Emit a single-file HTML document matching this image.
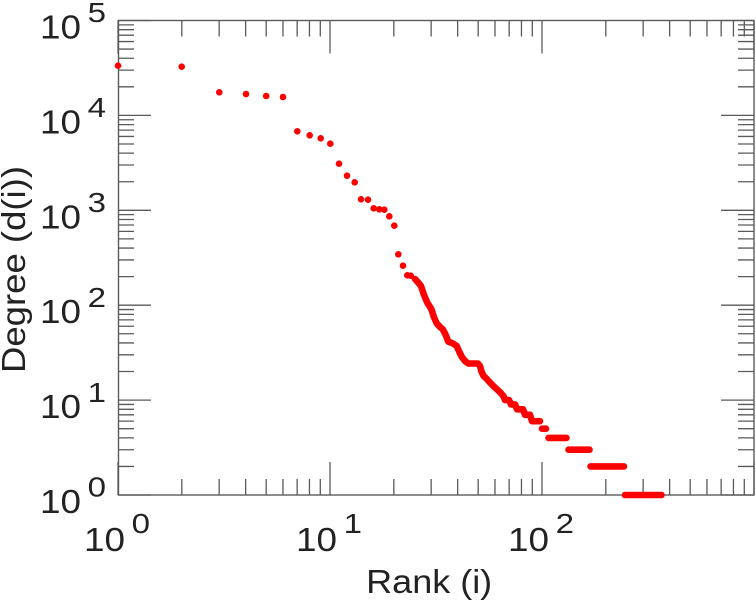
<!DOCTYPE html>
<html>
<head>
<meta charset="utf-8">
<style>
html,body{margin:0;padding:0;background:#fff;}
svg{display:block;}
text{font-family:"Liberation Sans",Arial,sans-serif;fill:#222;}
</style>
</head>
<body>
<svg width="756" height="600" viewBox="0 0 756 600" xmlns="http://www.w3.org/2000/svg">
<rect x="0" y="0" width="756" height="600" fill="#fff"/>

<!-- axes box -->
<rect x="118.5" y="20.5" width="635.5" height="474.5" fill="none" stroke="#5a5a5a" stroke-width="1.4"/>

<!-- ticks -->
<path fill="none" stroke="#5a5a5a" stroke-width="1.3" d="
M118 466.43h16M118 449.72h16M118 437.86h16M118 428.67h16M118 421.15h16M118 414.8h16M118 409.3h16M118 404.44h16
M118 371.53h16M118 354.82h16M118 342.96h16M118 333.77h16M118 326.25h16M118 319.9h16M118 314.4h16M118 309.54h16
M118 276.63h16M118 259.92h16M118 248.06h16M118 238.87h16M118 231.35h16M118 225h16M118 219.5h16M118 214.64h16
M118 181.73h16M118 165.02h16M118 153.16h16M118 143.97h16M118 136.45h16M118 130.1h16M118 124.6h16M118 119.74h16
M118 86.83h16M118 70.12h16M118 58.26h16M118 49.07h16M118 41.55h16M118 35.2h16M118 29.7h16M118 24.84h16
M754 466.43h-16M754 449.72h-16M754 437.86h-16M754 428.67h-16M754 421.15h-16M754 414.8h-16M754 409.3h-16M754 404.44h-16
M754 371.53h-16M754 354.82h-16M754 342.96h-16M754 333.77h-16M754 326.25h-16M754 319.9h-16M754 314.4h-16M754 309.54h-16
M754 276.63h-16M754 259.92h-16M754 248.06h-16M754 238.87h-16M754 231.35h-16M754 225h-16M754 219.5h-16M754 214.64h-16
M754 181.73h-16M754 165.02h-16M754 153.16h-16M754 143.97h-16M754 136.45h-16M754 130.1h-16M754 124.6h-16M754 119.74h-16
M754 86.83h-16M754 70.12h-16M754 58.26h-16M754 49.07h-16M754 41.55h-16M754 35.2h-16M754 29.7h-16M754 24.84h-16
M118 495h33M118 400.1h33M118 305.2h33M118 210.3h33M118 115.4h33M118 20.5h33
M754 495h-33M754 400.1h-33M754 305.2h-33M754 210.3h-33M754 115.4h-33M754 20.5h-33
M181.82 495v-16M219.15 495v-16M245.64 495v-16M266.18 495v-16M282.97 495v-16M297.16 495v-16M309.46 495v-16M320.3 495v-16
M393.82 495v-16M431.15 495v-16M457.64 495v-16M478.18 495v-16M494.97 495v-16M509.16 495v-16M521.46 495v-16M532.3 495v-16
M605.82 495v-16M643.15 495v-16M669.64 495v-16M690.18 495v-16M706.97 495v-16M721.16 495v-16M733.46 495v-16M744.3 495v-16
M181.82 20.5v16M219.15 20.5v16M245.64 20.5v16M266.18 20.5v16M282.97 20.5v16M297.16 20.5v16M309.46 20.5v16M320.3 20.5v16
M393.82 20.5v16M431.15 20.5v16M457.64 20.5v16M478.18 20.5v16M494.97 20.5v16M509.16 20.5v16M521.46 20.5v16M532.3 20.5v16
M605.82 20.5v16M643.15 20.5v16M669.64 20.5v16M690.18 20.5v16M706.97 20.5v16M721.16 20.5v16M733.46 20.5v16M744.3 20.5v16
M118 495v-33M330 495v-33M542 495v-33M754 495v-33
M118 20.5v33M330 20.5v33M542 20.5v33M754 20.5v33
"/>

<!-- data: individual dots -->
<g fill="#ff0000">
<circle cx="118" cy="65.7" r="3.3"/>
<circle cx="181.7" cy="66.7" r="3.3"/>
<circle cx="219.3" cy="92.3" r="3.3"/>
<circle cx="246" cy="94" r="3.3"/>
<circle cx="266.2" cy="96" r="3.3"/>
<circle cx="283" cy="97" r="3.3"/>
<circle cx="297.3" cy="131.3" r="3.3"/>
<circle cx="309.7" cy="135.3" r="3.3"/>
<circle cx="320.7" cy="138.3" r="3.3"/>
<circle cx="330.3" cy="143.7" r="3.3"/>
<circle cx="339" cy="163.7" r="3.3"/>
<circle cx="347" cy="175.7" r="3.3"/>
<circle cx="354.7" cy="182.3" r="3.3"/>
<circle cx="361" cy="199.3" r="3.3"/>
<circle cx="368" cy="199.7" r="3.3"/>
<circle cx="373.7" cy="208.3" r="3.3"/>
<circle cx="379.3" cy="209.3" r="3.3"/>
<circle cx="384.3" cy="209.7" r="3.3"/>
<circle cx="389.3" cy="216.3" r="3.3"/>
<circle cx="394.3" cy="225.7" r="3.3"/>
<circle cx="398.3" cy="254.3" r="3.3"/>
<circle cx="403" cy="265.7" r="3.3"/>
<circle cx="407.3" cy="275.3" r="3.3"/>
<circle cx="410.7" cy="275.7" r="3.3"/>
</g>

<!-- data: dense overlapping dots -->
<g fill="none" stroke="#ff0000" stroke-width="6.6" stroke-linecap="round" stroke-linejoin="round">
<polyline points="415,279 418.3,282.7 421,286 424,295 427.3,302.7 431.3,309 434,317.3 436.7,323.3 440,327 442.7,329.3 445.3,334 448.3,341.7 452.7,343.3 456.7,346 459.3,351.7 461.7,356.7 465,361 468.3,363.5 478,363.5 480,366 481.5,371.5 483.5,375.9 486,378.2 488.3,380.7 490.8,383.4 493.5,386.2 497,389.3 500.5,392.6 503.5,396.2 505,400 509,400 511,404.4 515,404.4 517,409.3 523,409.3 525,414.8 530,414.8 532,421.2 540,421.2"/>
<path d="M542 428.7H546M548.5 437.9H566.5M568.5 449.7H589.5M590.5 466.4H624M625 495H661.5"/>
</g>

<!-- y tick labels -->
<g font-size="33">
<text x="40" y="38.5" textLength="41" lengthAdjust="spacingAndGlyphs">10</text>
<text x="40" y="133.4" textLength="41" lengthAdjust="spacingAndGlyphs">10</text>
<text x="40" y="228.3" textLength="41" lengthAdjust="spacingAndGlyphs">10</text>
<text x="40" y="323.2" textLength="41" lengthAdjust="spacingAndGlyphs">10</text>
<text x="40" y="418.1" textLength="41" lengthAdjust="spacingAndGlyphs">10</text>
<text x="40" y="513" textLength="41" lengthAdjust="spacingAndGlyphs">10</text>
</g>
<g font-size="28">
<text x="87.6" y="22" textLength="18.4" lengthAdjust="spacingAndGlyphs">5</text>
<text x="87.6" y="117" textLength="18.4" lengthAdjust="spacingAndGlyphs">4</text>
<text x="87.6" y="212" textLength="18.4" lengthAdjust="spacingAndGlyphs">3</text>
<text x="87.6" y="307" textLength="18.4" lengthAdjust="spacingAndGlyphs">2</text>
<text x="87.6" y="402" textLength="18.4" lengthAdjust="spacingAndGlyphs">1</text>
<text x="87.6" y="496.5" textLength="18.4" lengthAdjust="spacingAndGlyphs">0</text>
</g>

<!-- x tick labels -->
<g font-size="33">
<text x="84" y="551" textLength="41" lengthAdjust="spacingAndGlyphs">10</text>
<text x="296" y="551" textLength="41" lengthAdjust="spacingAndGlyphs">10</text>
<text x="508" y="551" textLength="41" lengthAdjust="spacingAndGlyphs">10</text>
</g>
<g font-size="28">
<text x="131.6" y="533" textLength="18.4" lengthAdjust="spacingAndGlyphs">0</text>
<text x="343.6" y="533" textLength="18.4" lengthAdjust="spacingAndGlyphs">1</text>
<text x="555.6" y="533" textLength="18.4" lengthAdjust="spacingAndGlyphs">2</text>
</g>

<!-- axis titles -->
<text x="366.2" y="593" font-size="33" textLength="126" lengthAdjust="spacingAndGlyphs">Rank (i)</text>
<text transform="translate(25,373) rotate(-90)" x="0" y="0" font-size="33" textLength="207" lengthAdjust="spacingAndGlyphs">Degree (d(i))</text>
</svg>
</body>
</html>
